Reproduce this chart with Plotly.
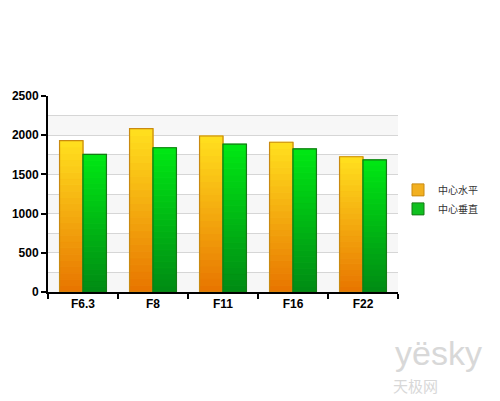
import plotly.graph_objects as go

categories = ["F6.3", "F8", "F11", "F16", "F22"]
horizontal = [1930, 2085, 1990, 1910, 1725]   # 中心水平
vertical = [1755, 1840, 1885, 1825, 1685]     # 中心垂直

N_STEPS = 24


def mix(c1, c2, t):
    return "rgb(%d,%d,%d)" % tuple(round(a + (b - a) * t) for a, b in zip(c1, c2))


def add_gradient_bars(fig, values, name, group, top, bottom, edge, legend_color):
    # stack thin slices so each bar fades from top colour down to bottom colour
    for i in range(N_STEPS):
        t = i / (N_STEPS - 1)
        col = mix(bottom, top, t)
        fig.add_trace(go.Bar(
            x=categories, y=[v / N_STEPS for v in values],
            base=[v * i / N_STEPS for v in values],
            offsetgroup=group, marker=dict(color=col, line=dict(color=col, width=1)),
            showlegend=False, hoverinfo="skip"))
    fig.add_trace(go.Bar(
        x=categories, y=values, offsetgroup=group, name=name,
        marker=dict(color="rgba(0,0,0,0)", line=dict(color=edge, width=1.2)),
        showlegend=False))
    # legend entry only
    fig.add_trace(go.Bar(
        x=[None], y=[None], name=name,
        marker=dict(color=legend_color, line=dict(color=edge, width=1))))


fig = go.Figure()

# alternating light bands behind the bars
for lo in range(0, 2500, 500):
    fig.add_shape(type="rect", xref="paper", yref="y", x0=0, x1=1, y0=lo, y1=lo + 250,
                  fillcolor="#f7f7f7", line=dict(width=0), layer="below")

add_gradient_bars(fig, horizontal, "中心水平", "h",
                  (255, 222, 30), (232, 118, 0), "#c98a10", "#f2b020")
add_gradient_bars(fig, vertical, "中心垂直", "v",
                  (0, 230, 20), (0, 140, 20), "#157a15", "#10c020")

# page body has an 8px margin, so the figure is sized to fit the window
fig.update_layout(
    width=492, height=393,
    margin=dict(l=40, r=102, t=88, b=109, autoexpand=False),
    paper_bgcolor="white", plot_bgcolor="rgba(0,0,0,0)",
    barmode="group", bargap=0.33, bargroupgap=0.0,
    font=dict(family="Liberation Sans, Arial, sans-serif", color="black"),
    legend=dict(x=1.0, y=0.595, xanchor="left", yanchor="top",
                font=dict(size=10, family="Noto Sans CJK SC", color="#333"),
                itemwidth=30, tracegroupgap=0, bgcolor="rgba(0,0,0,0)"),
    showlegend=True,
)

fig.update_xaxes(
    automargin=False, showline=True, linecolor="black", linewidth=2,
    ticks="outside", tickson="boundaries", ticklen=5, tickwidth=2, tickcolor="black",
    tickfont=dict(size=12, family="Liberation Sans", weight="bold"),
    showgrid=False,
)
fig.update_yaxes(
    automargin=False, range=[0, 2500], dtick=500, showline=True, linecolor="black", linewidth=2,
    ticks="outside", ticklen=5, tickwidth=2, tickcolor="black",
    tickfont=dict(size=12, family="Liberation Sans", weight="bold"),
    showgrid=True, gridcolor="#d6d6d6", gridwidth=1, zeroline=False,
    minor=dict(dtick=250, showgrid=True, gridcolor="#d6d6d6", gridwidth=1),
)

# faint watermark
fig.add_annotation(text="yësky", xref="paper", yref="paper", x=1.245, y=-0.31,
                   xanchor="right", yanchor="middle", showarrow=False,
                   font=dict(size=34, color="#d8d8d8", family="Liberation Sans"))
fig.add_annotation(text="天极网", xref="paper", yref="paper", x=1.12, y=-0.475,
                   xanchor="right", yanchor="middle", showarrow=False,
                   font=dict(size=15, color="#d8d8d8", family="Noto Sans CJK SC"))

fig.write_html("out.html")
